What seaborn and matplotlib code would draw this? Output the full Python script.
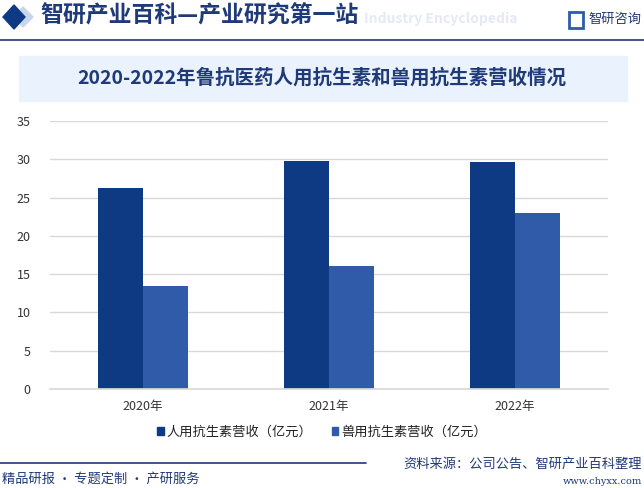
import matplotlib
matplotlib.use("Agg")
import matplotlib.pyplot as plt
import seaborn as sns
import pandas as pd
from matplotlib.patches import Rectangle, Polygon
from matplotlib.lines import Line2D

years = ["2020年", "2021年", "2022年"]
series_names = ["人用抗生素营收（亿元）", "兽用抗生素营收（亿元）"]
human = [26.2, 29.8, 29.7]
vet = [13.5, 16.1, 23.0]
colors = ["#0E3A84", "#2F5BA8"]

sns.set_theme(style="white")
plt.rcParams['font.family'] = ['Noto Sans CJK SC', 'DejaVu Sans']

df = pd.DataFrame({
    "year": years * 2,
    "value": human + vet,
    "series": [series_names[0]] * 3 + [series_names[1]] * 3,
})

fig = plt.figure(figsize=(6.44, 4.88), dpi=100)
ax = fig.add_axes([50/644, 1-389/488, 558/644, 268/488])

sns.barplot(data=df, x="year", y="value", hue="series", palette=colors,
            width=0.48, gap=0, saturation=1, linewidth=0, ax=ax, legend=False)

ax.set_ylim(0, 35)
ax.set_xlim(-0.5, 2.5)
ax.set_yticks(range(0, 36, 5))
ax.yaxis.grid(True, color="#D9D9D9", linewidth=1)
ax.set_axisbelow(True)
for s in ["top", "right", "left"]:
    ax.spines[s].set_visible(False)
ax.spines["bottom"].set_color("#D9D9D9")
ax.set_xlabel("")
ax.set_ylabel("")
ax.tick_params(axis="both", length=0, labelsize=9, colors="#333333")
ax.tick_params(axis="x", pad=8)
ax.tick_params(axis="y", pad=14)

handles = [Rectangle((0, 0), 1, 1, color=c) for c in colors]
fig.legend(handles, series_names, loc="center", bbox_to_anchor=(0.5, 1-432/488),
           ncol=2, frameon=False, fontsize=9.5, handlelength=0.5, handleheight=0.5,
           handletextpad=0.2, columnspacing=1.5, labelcolor="#222222")

# Header
fig.add_artist(Polygon([[3/644, 1-17/488], [14/644, 1-5/488], [25/644, 1-17/488], [14/644, 1-29/488]],
                       closed=True, transform=fig.transFigure, color="#0E3A84"))
fig.add_artist(Polygon([[14/644, 1-17/488], [23/644, 1-7/488], [33/644, 1-17/488], [23/644, 1-27/488]],
                       closed=True, transform=fig.transFigure, color="#C9D5EA", zorder=0))
fig.text(364/644, 1-19/488, "Industry Encyclopedia", fontsize=10, color="#E3EAF5",
         ha="left", va="center", fontweight="bold", zorder=0)
fig.text(40/644, 1-16/488, "智研产业百科—产业研究第一站", fontsize=16.5, color="#1F3A78",
         ha="left", va="center", fontweight="bold")
fig.add_artist(Line2D([0, 1], [1-40/488, 1-40/488], transform=fig.transFigure, color="#1F3A78", linewidth=1.2))
# logo
fig.add_artist(Rectangle((569/644, 1-28/488), 14/644, 16/488, transform=fig.transFigure,
                         color="#2F5BA8", fill=False, linewidth=2))
fig.text(588/644, 1-19/488, "智研咨询", fontsize=9.5, color="#1F3A78", ha="left", va="center")

# Title banner
fig.add_artist(Rectangle((19/644, 1-101/488), 608/644, 45/488, transform=fig.transFigure,
                         color="#EAF2FD", zorder=0))
fig.text(322/644, 1-78/488, "2020-2022年鲁抗医药人用抗生素和兽用抗生素营收情况", fontsize=14,
         color="#1F3A78", ha="center", va="center", fontweight="bold")

# Footer
fig.add_artist(Line2D([0, 366/644], [1-463/488, 1-463/488], transform=fig.transFigure,
                      color="#1F3A78", linewidth=1.2))
fig.text(2/644, 1-479/488, "精品研报 · 专题定制 · 产研服务", fontsize=9.5, color="#1F3A78",
         ha="left", va="center")
fig.text(642/644, 1-464/488, "资料来源：公司公告、智研产业百科整理", fontsize=9.5, color="#1F3A78",
         ha="right", va="center")
fig.text(642/644, 1-482/488, "www.chyxx.com", fontsize=7, color="#1F3A78",
         ha="right", va="center", family=["DejaVu Serif"])

fig.savefig("out.png", dpi=100)
